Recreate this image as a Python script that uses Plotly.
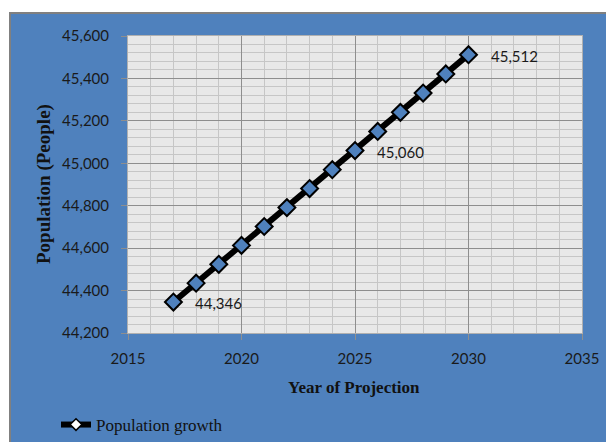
import plotly.graph_objects as go

years = [2017, 2018, 2019, 2020, 2021, 2022, 2023, 2024, 2025, 2026, 2027, 2028, 2029, 2030]
population = [44346, 44435, 44524, 44613, 44702, 44791, 44881, 44970, 45060, 45150, 45240, 45331, 45421, 45512]
labelled_years = [2017, 2025, 2030]

series_name = "Population growth"
x_title = "Year of Projection"
y_title = "Population (People)"

BLUE = "#4F81BD"
W, H = 606, 442
L, R, T, B = 128, 24, 36, 109
pw, ph = W - L - R, H - T - B

def px_x(p):
    return (p - L) / pw

def px_y(p):
    return (H - B - p) / ph

fig = go.Figure()
fig.add_trace(go.Scatter(
    x=years, y=population, mode="lines+markers",
    line=dict(color="black", width=6),
    marker=dict(symbol="diamond", size=13, color=BLUE, line=dict(color="black", width=2)),
    showlegend=False, cliponaxis=False,
))
fig.add_trace(go.Scatter(
    x=[None], y=[None], mode="lines+markers", name=series_name,
    line=dict(color="black", width=6),
    marker=dict(symbol="diamond", size=9, color="white", line=dict(color="black", width=1.5)),
))

for yr, val in zip(years, population):
    if yr in labelled_years:
        fig.add_annotation(x=yr, y=val, text=f"{val:,}", showarrow=False,
                           xanchor="left", yanchor="middle", xshift=20, yshift=-1,
                           font=dict(family="Lato", size=15, color="#1a1a1a"))

grid_major = "#8e8e8e"
grid_minor = "#c6c6c6"
tickfont = dict(family="Lato", size=15, color="#1a1a1a")

fig.update_xaxes(
    range=[2015, 2035], dtick=5, tick0=2015, tickfont=tickfont,
    ticks="outside", ticklen=6, tickcolor="#8e8e8e", ticklabelstandoff=6,
    showgrid=True, gridcolor=grid_major, gridwidth=1,
    minor=dict(dtick=1, showgrid=True, gridcolor=grid_minor, gridwidth=1),
    showline=True, linecolor="#b0b0b0", mirror=True, zeroline=False,
    automargin=False,
)
fig.update_yaxes(
    range=[44200, 45600], dtick=200, tick0=44200, tickformat=",", tickfont=tickfont,
    ticks="outside", ticklen=6, tickcolor="#8e8e8e", ticklabelstandoff=9,
    showgrid=True, gridcolor=grid_major, gridwidth=1,
    minor=dict(dtick=40, showgrid=True, gridcolor=grid_minor, gridwidth=1),
    showline=True, linecolor="#b0b0b0", mirror=True, zeroline=False,
    automargin=False,
)

fig.add_shape(type="rect", xref="paper", yref="paper", layer="below",
              x0=px_x(10), x1=px_x(640), y0=px_y(480), y1=px_y(13),
              fillcolor=BLUE, line=dict(color="#808080", width=2))
fig.add_shape(type="rect", xref="paper", yref="paper", layer="below",
              x0=0, x1=1, y0=0, y1=1, fillcolor="#E8E8E8", line=dict(width=0))

fig.add_annotation(text=f"<b>{x_title}</b>", xref="paper", yref="paper",
                   x=px_x(354), y=px_y(387), showarrow=False,
                   xanchor="center", yanchor="middle",
                   font=dict(family="Liberation Serif", size=17, color="#111111"))
fig.add_annotation(text=f"<b>{y_title}</b>", xref="paper", yref="paper",
                   x=px_x(44), y=px_y(184), showarrow=False, textangle=-90,
                   xanchor="center", yanchor="middle",
                   font=dict(family="Liberation Serif", size=19, color="#111111"))

fig.update_layout(
    width=W, height=H,
    margin=dict(l=L, r=R, t=T, b=B, autoexpand=False),
    paper_bgcolor="white", plot_bgcolor="#E8E8E8",
    legend=dict(x=px_x(56), y=px_y(425), xanchor="left", yanchor="middle",
                bgcolor="rgba(0,0,0,0)",
                font=dict(family="Liberation Serif", size=17, color="#111111")),
    showlegend=True,
)

fig.write_html("out.html", config={"displayModeBar": False},
               post_script="document.body.style.margin='0';document.body.style.overflow='hidden';")
